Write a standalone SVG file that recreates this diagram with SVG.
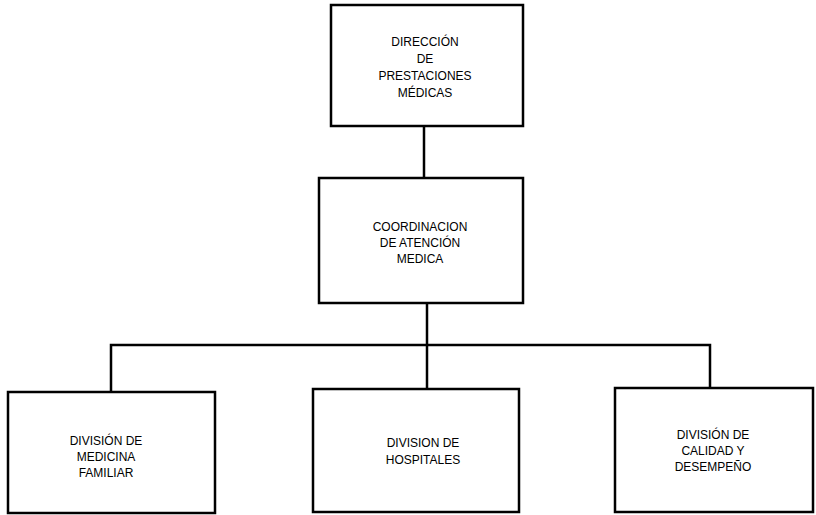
<svg xmlns="http://www.w3.org/2000/svg" width="816" height="515" viewBox="0 0 816 515">
<style>
.box{fill:#fff;stroke:#000;stroke-width:2.5}
.ln{fill:none;stroke:#000;stroke-width:2.5}
text{font-family:"Liberation Sans",Arial,sans-serif;font-size:12px;fill:#000;text-anchor:middle}
</style>
<rect width="816" height="515" fill="#fff"/>
<g id="connectors">
<line class="ln" x1="424" y1="126" x2="424" y2="178"/>
<line class="ln" x1="427" y1="303" x2="427" y2="389"/>
<polyline class="ln" points="111,392 111,345 710,345 710,388"/>
</g>
<g id="n_direccion">
<rect class="box" x="331" y="5" width="192" height="121"/>
<text x="425" y="46">DIRECCIÓN</text>
<text x="425" y="63">DE</text>
<text x="425" y="80">PRESTACIONES</text>
<text x="425" y="97">MÉDICAS</text>
</g>
<g id="n_coordinacion">
<rect class="box" x="319" y="178" width="204" height="125"/>
<text x="420" y="231">COORDINACION</text>
<text x="420" y="247">DE ATENCIÓN</text>
<text x="420" y="263">MEDICA</text>
</g>
<g id="n_familiar">
<rect class="box" x="8" y="392" width="207" height="121"/>
<text x="106" y="445">DIVISIÓN DE</text>
<text x="106" y="461">MEDICINA</text>
<text x="106" y="477">FAMILIAR</text>
</g>
<g id="n_hospitales">
<rect class="box" x="313" y="389" width="206" height="123"/>
<text x="423" y="447">DIVISION DE</text>
<text x="423" y="464">HOSPITALES</text>
</g>
<g id="n_calidad">
<rect class="box" x="615" y="388" width="198" height="124"/>
<text x="713" y="439">DIVISIÓN DE</text>
<text x="713" y="455">CALIDAD Y</text>
<text x="713" y="471">DESEMPEÑO</text>
</g>
</svg>
